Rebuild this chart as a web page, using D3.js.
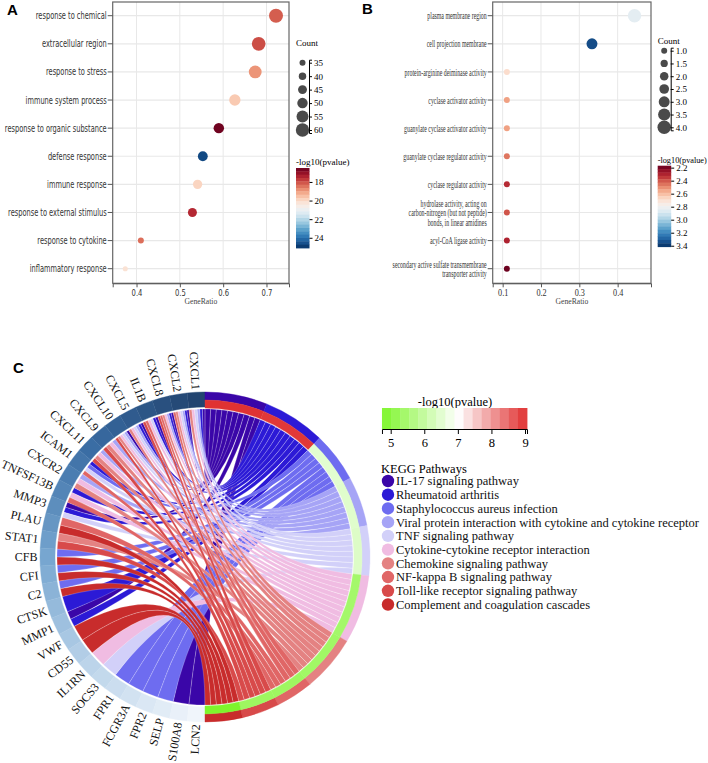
<!DOCTYPE html>
<html>
<head>
<meta charset="utf-8">
<script src="https://cdn.jsdelivr.net/npm/d3@7"></script>
<style>
  body { margin: 0; background: #fff; }
  svg { display: block; }
</style>
</head>
<body>
<div id="chart"></div>
<script>
// ---------- Panel A: GO enrichment (top 10) ----------
const termsA = ["response to chemical", "extracellular region", "response to stress", "immune system process",
  "response to organic substance", "defense response", "immune response", "response to external stimulus",
  "response to cytokine", "inflammatory response"];
const ratioA = [0.722, 0.682, 0.674, 0.627, 0.590, 0.553, 0.541, 0.529, 0.410, 0.374];
const countA = [62, 61, 58, 53, 50, 48, 46, 45, 35, 32];
const logpA = [18.2, 18.0, 18.9, 19.7, 16.6, 24.7, 19.9, 17.5, 18.4, 20.2];
const countTicksA = [35, 40, 45, 50, 55, 60];
const pvalTicksA = [18, 20, 22, 24];
const xTicksA = [0.4, 0.5, 0.6, 0.7];

// ---------- Panel B: GO enrichment (second set) ----------
const termsB = ["plasma membrane region", "cell projection membrane", "protein-arginine deiminase activity",
  "cyclase activator activity", "guanylate cyclase activator activity", "guanylate cyclase regulator activity",
  "cyclase regulator activity", "hydrolase activity, acting on\ncarbon-nitrogen (but not peptide)\nbonds, in linear amidines",
  "acyl-CoA ligase activity", "secondary active sulfate transmembrane\ntransporter activity"];
const ratioB = [0.444, 0.333, 0.111, 0.111, 0.111, 0.111, 0.111, 0.111, 0.111, 0.111];
const countB = [4, 3, 1, 1, 1, 1, 1, 1, 1, 1];
const logpB = [2.85, 3.35, 2.69, 2.54, 2.54, 2.46, 2.32, 2.40, 2.30, 2.18];
const countTicksB = [1.0, 1.5, 2.0, 2.5, 3.0, 3.5, 4.0];
const pvalTicksB = [2.2, 2.4, 2.6, 2.8, 3.0, 3.2, 3.4];
const xTicksB = [0.1, 0.2, 0.3, 0.4];

// ---------- Panel C: KEGG chord ----------
const genes = ["CXCL1", "CXCL2", "CXCL8", "IL1B", "CXCL5", "CXCL10", "CXCL9", "CXCL11", "ICAM1", "CXCR2",
  "TNFSF13B", "MMP3", "PLAU", "STAT1", "CFB", "CFI", "C2", "CTSK", "MMP1", "VWF", "CD55", "IL1RN",
  "SOCS3", "FPR1", "FCGR3A", "FPR2", "SELP", "S100A8", "LCN2"];
const pathways = ["IL-17 signaling pathway", "Rheumatoid arthritis", "Staphylococcus aureus infection",
  "Viral protein interaction with cytokine and cytokine receptor", "TNF signaling pathway",
  "Cytokine-cytokine receptor interaction", "Chemokine signaling pathway", "NF-kappa B signaling pathway",
  "Toll-like receptor signaling pathway", "Complement and coagulation cascades"];
const pathwayColors = ["#3a06a8", "#2c1ad6", "#6e6cf0", "#a6a4f6", "#d2d0f9", "#f0bce2",
  "#e48282", "#e06666", "#d84a4a", "#c82c2c"];
const pathwayLogP = [9.06, 9.0, 6.5, 6.45, 6.4, 5.4, 5.35, 5.3, 5.3, 4.74];
const pathwayGenes = [
  ["CXCL1", "CXCL2", "CXCL8", "IL1B", "CXCL5", "CXCL10", "MMP3", "MMP1", "S100A8", "LCN2"],
  ["CXCL1", "CXCL2", "CXCL8", "IL1B", "CXCL5", "ICAM1", "TNFSF13B", "MMP3", "CTSK", "MMP1"],
  ["ICAM1", "CFB", "CFI", "C2", "FPR1", "FCGR3A", "FPR2", "SELP"],
  ["CXCL1", "CXCL2", "CXCL8", "CXCL5", "CXCL10", "CXCL9", "CXCL11", "CXCR2"],
  ["CXCL1", "CXCL2", "IL1B", "CXCL5", "CXCL10", "ICAM1", "MMP3", "SOCS3"],
  ["CXCL1", "CXCL2", "CXCL8", "IL1B", "CXCL5", "CXCL10", "CXCL9", "CXCL11", "CXCR2", "TNFSF13B", "IL1RN"],
  ["CXCL1", "CXCL2", "CXCL8", "CXCL5", "CXCL10", "CXCL9", "CXCL11", "CXCR2", "STAT1"],
  ["CXCL2", "CXCL8", "IL1B", "ICAM1", "TNFSF13B", "PLAU"],
  ["CXCL8", "IL1B", "CXCL10", "CXCL9", "CXCL11", "STAT1"],
  ["PLAU", "CFB", "CFI", "C2", "VWF", "CD55"]
];
const pvalTicksC = [5, 6, 7, 8, 9];

const serif = "'Liberation Serif', 'Times New Roman', serif";
const sans = "'DejaVu Sans', sans-serif";

const svg = d3.select("#chart").append("svg")
  .attr("width", 708)
  .attr("height", 763);

// panel letters
[["A", 7, 15], ["B", 362, 14], ["C", 13, 373]].forEach(([t, x, y]) => {
  svg.append("text").attr("x", x).attr("y", y)
    .style("font-family", "'Liberation Sans', Arial, sans-serif")
    .style("font-weight", "bold").style("font-size", "15px").text(t);
});

// ---------- dot plot helper ----------
function dotPlot(o) {
  const g = svg.append("g");
  const x = d3.scaleLinear().domain(o.xDomain).range([o.left, o.right]);
  const y = d3.scalePoint().domain(o.terms).range([15.7, 268.7]);
  const r = d3.scaleLinear().domain(o.sizeDomain).range([3, 6.7]);
  const color = d3.scaleSequential(d3.interpolateRdBu).domain(o.colorDomain);

  // grid
  g.selectAll(".vg").data(o.xTicks).join("line")
    .attr("x1", d => x(d)).attr("x2", d => x(d))
    .attr("y1", o.top).attr("y2", o.bottom)
    .attr("stroke", "#e8e8e8").attr("stroke-width", 1);
  g.selectAll(".hg").data(o.terms).join("line")
    .attr("x1", o.left).attr("x2", o.right)
    .attr("y1", d => y(d)).attr("y2", d => y(d))
    .attr("stroke", "#e8e8e8").attr("stroke-width", 1.2);

  g.append("rect")
    .attr("x", o.left).attr("y", o.top)
    .attr("width", o.right - o.left).attr("height", o.bottom - o.top)
    .attr("fill", "none").attr("stroke", "#666").attr("stroke-width", 1.2);

  // y ticks + labels
  g.selectAll(".yt").data(o.terms).join("line")
    .attr("x1", o.left - 5).attr("x2", o.left)
    .attr("y1", d => y(d)).attr("y2", d => y(d))
    .attr("stroke", "#555");
  const lab = g.selectAll(".yl").data(o.terms).join("text")
    .attr("transform", d => `translate(${o.left - 6},${y(d)}) scale(${o.labelScale},1)`)
    .attr("text-anchor", "end")
    .style("font-family", o.font).style("font-size", o.labelSize + "px")
    .attr("fill", "#333");
  lab.each(function(d) {
    const lines = d.split("\n");
    const lh = 9.6;
    d3.select(this).selectAll("tspan").data(lines).join("tspan")
      .attr("x", 0)
      .attr("y", (l, i) => (i - (lines.length - 1) / 2) * lh)
      .attr("dy", "0.35em")
      .text(l => l);
  });

  // x axis
  const xa = g.append("g").attr("transform", `translate(0,${o.bottom})`)
    .call(d3.axisBottom(x).tickValues(o.xTicks).tickSize(4).tickSizeOuter(4).tickFormat(d3.format(".1f")));
  xa.select(".domain").attr("stroke", "#555");
  xa.selectAll(".tick line").attr("stroke", "#555");
  xa.selectAll(".tick text")
    .attr("y", 0).attr("dy", 0)
    .attr("transform", `translate(0,13) scale(${o.tickScale},1)`)
    .style("font-family", o.font).style("font-size", o.tickSize + "px").attr("fill", "#333");

  g.append("text")
    .attr("transform", `translate(${(o.left + o.right) / 2},304) scale(0.9,1)`)
    .attr("text-anchor", "middle")
    .style("font-family", serif).style("font-size", "8.5px").attr("fill", "#444")
    .text("GeneRatio");

  // dots
  g.selectAll(".dot").data(o.terms).join("circle")
    .attr("cx", (d, i) => x(o.ratio[i]))
    .attr("cy", d => y(d))
    .attr("r", (d, i) => r(o.count[i]))
    .attr("fill", (d, i) => color(o.logp[i]));

  // size legend
  const lg = svg.append("g");
  lg.append("text").attr("x", o.legX).attr("y", o.countTitleY)
    .style("font-family", serif).style("font-size", "9px").text("Count");
  const sy = d3.scaleLinear().domain([o.countTicks[0], o.countTicks[o.countTicks.length - 1]]).range(o.countRange);
  lg.selectAll(".lc").data(o.countTicks).join("circle")
    .attr("cx", o.legX + 6.5).attr("cy", d => sy(d)).attr("r", d => r(d)).attr("fill", "#4a4a4a");
  const sa = lg.append("g").attr("transform", `translate(${o.legX + 13},0)`)
    .call(d3.axisRight(sy.copy().domain([sy.invert(o.countRange[0] - 3), sy.invert(o.countRange[1] + 3)])
      .range([o.countRange[0] - 3, o.countRange[1] + 3]))
      .tickValues(o.countTicks).tickSize(3).tickSizeOuter(3).tickFormat(o.countFormat));
  sa.selectAll("text").style("font-family", serif).style("font-size", "9px").attr("x", 5);

  // colour legend
  lg.append("text").attr("transform", `translate(${o.legX},${o.pTitleY}) scale(${o.pTitleScale},1)`)
    .style("font-family", serif).style("font-size", "9px").text("-log10(pvalue)");
  const cy = d3.scaleLinear().domain(o.colorDomain).range(o.barRange);
  const steps = d3.range(24).map(i => o.colorDomain[0] + (i + 0.5) * (o.colorDomain[1] - o.colorDomain[0]) / 24);
  const bh = (o.barRange[1] - o.barRange[0]) / 24;
  lg.selectAll(".cb").data(steps).join("rect")
    .attr("x", o.legX).attr("width", 13.5)
    .attr("y", d => cy(d) - bh / 2).attr("height", bh + 0.4)
    .attr("fill", d => color(d));
  const ca = lg.append("g").attr("transform", `translate(${o.legX + 13.5},0)`)
    .call(d3.axisRight(cy).tickValues(o.pvalTicks).tickSize(3).tickSizeOuter(0).tickFormat(o.pFormat));
  ca.select(".domain").remove();
  ca.selectAll("text").style("font-family", serif).style("font-size", "9px").attr("x", 5);
}

dotPlot({
  terms: termsA, ratio: ratioA, count: countA, logp: logpA,
  left: 112.7, right: 289, top: 2, bottom: 283.3,
  xDomain: [0.345, 0.752], xTicks: xTicksA,
  sizeDomain: [35, 60], colorDomain: [16.5, 25.1],
  font: sans, labelSize: 10, labelScale: 0.665, tickSize: 9.5, tickScale: 0.72,
  legX: 296, countTitleY: 46, countRange: [62.7, 130], countTicks: countTicksA, countFormat: d3.format("d"),
  pTitleY: 165, pTitleScale: 1, barRange: [168, 248], pvalTicks: pvalTicksA, pFormat: d3.format("d")
});

dotPlot({
  terms: termsB, ratio: ratioB, count: countB, logp: logpB,
  left: 492.7, right: 651, top: 2, bottom: 283.3,
  xDomain: [0.074, 0.487], xTicks: xTicksB,
  sizeDomain: [1, 4], colorDomain: [2.17, 3.415],
  font: serif, labelSize: 10.5, labelScale: 0.56, tickSize: 10, tickScale: 0.82,
  legX: 657.7, countTitleY: 44, countRange: [50.7, 127.3], countTicks: countTicksB, countFormat: d3.format(".1f"),
  pTitleY: 162.5, pTitleScale: 0.92, barRange: [165.7, 246.7], pvalTicks: pvalTicksB, pFormat: d3.format(".1f")
});

// ---------- Panel C ----------
const cx = 205, cyC = 557;
const gc = svg.append("g").attr("transform", `translate(${cx},${cyC})`);

const pColor = d3.scaleLinear().domain([4.74, 7, 9.06]).range(["#7ef52c", "#ffffff", "#e03232"]).clamp(true);
const geneColor = d3.scaleLinear()
  .domain([0, 0.25, 0.5, 0.75, 1])
  .range(["#224470", "#3a6da4", "#77a6d0", "#bcd4ea", "#f0f5fb"]);

const gw = Math.PI / genes.length;
const totalLinks = d3.sum(pathwayGenes, d => d.length);
const lw = Math.PI / totalLinks;
let acc = 0;
const pathArcs = pathwayGenes.map((gs, j) => {
  const s = acc; acc += gs.length * lw;
  return { j, startAngle: s, endAngle: acc };
});
const geneMember = genes.map(gn => pathways.map((p, j) => j).filter(j => pathwayGenes[j].includes(gn)));

const links = [];
pathwayGenes.forEach((gs, j) => {
  const sorted = gs.slice().sort((a, b) => genes.indexOf(a) - genes.indexOf(b));
  sorted.forEach((gn, k) => {
    const i = genes.indexOf(gn);
    const memb = geneMember[i];
    const n = memb.length, kk = memb.indexOf(j);
    const ps = pathArcs[j].startAngle + k * lw;
    links.push({
      j,
      source: { startAngle: ps, endAngle: ps + lw },
      target: { startAngle: -(i * gw + (kk + 1) * gw / n), endAngle: -(i * gw + kk * gw / n) }
    });
  });
});

const ribbon = d3.ribbon().radius(148);
gc.selectAll(".chord").data(links).join("path")
  .attr("d", ribbon)
  .attr("fill", d => pathwayColors[d.j])
  .attr("stroke", "#ffffff").attr("stroke-width", 0.3).attr("stroke-opacity", 0.7);

// gene ring
const geneArc = d3.arc().innerRadius(150).outerRadius(165);
gc.selectAll(".garc").data(genes).join("path")
  .attr("d", (d, i) => geneArc({ startAngle: -(i + 1) * gw, endAngle: -i * gw }))
  .attr("fill", (d, i) => geneColor(i / (genes.length - 1)))
  .attr("stroke", (d, i) => geneColor(i / (genes.length - 1))).attr("stroke-width", 0.4);

// pathway rings
const outerArc = d3.arc().innerRadius(157).outerRadius(165);
const innerArc = d3.arc().innerRadius(149).outerRadius(157);
gc.selectAll(".parc").data(pathArcs).join("path")
  .attr("d", outerArc).attr("fill", d => pathwayColors[d.j])
  .attr("stroke", d => pathwayColors[d.j]).attr("stroke-width", 0.4);
gc.selectAll(".pval").data(pathArcs).join("path")
  .attr("d", innerArc).attr("fill", d => pColor(pathwayLogP[d.j]))
  .attr("stroke", d => pColor(pathwayLogP[d.j])).attr("stroke-width", 0.4);

// gene labels
gc.selectAll(".glab").data(genes).join("text")
  .attr("transform", (d, i) => {
    const a = -(i + 0.5) * gw;
    const rr = 167.5;
    return `translate(${rr * Math.sin(a)},${-rr * Math.cos(a)}) rotate(${90 + a * 180 / Math.PI})`;
  })
  .attr("text-anchor", "end")
  .attr("dy", "0.35em")
  .style("font-family", serif).style("font-size", "12px").attr("fill", "#111")
  .text(d => d);

// p-value colour legend
const lx = d3.scaleLinear().domain([5, 9]).range([390.7, 525]);
svg.append("text").attr("x", 455).attr("y", 406).attr("text-anchor", "middle")
  .style("font-family", serif).style("font-size", "12.5px").text("-log10(pvalue)");
const nSteps = 16;
const stepVals = d3.range(nSteps).map(i => 4.74 + (i + 0.5) * (9.06 - 4.74) / nSteps);
const sw = (lx(9.06) - lx(4.74)) / nSteps;
svg.selectAll(".lstep").data(stepVals).join("rect")
  .attr("x", d => lx(d) - sw / 2).attr("width", sw + 0.4)
  .attr("y", 408).attr("height", 21)
  .attr("fill", d => pColor(d));
const lax = svg.append("g").attr("transform", "translate(0,429)")
  .call(d3.axisBottom(lx.copy().domain([4.74, 9.06]).range([lx(4.74), lx(9.06)]))
    .tickValues(pvalTicksC).tickSize(5).tickSizeOuter(5).tickFormat(d3.format("d")));
lax.selectAll("text").style("font-family", serif).style("font-size", "12.5px").attr("y", 9);

// KEGG legend
svg.append("text").attr("x", 381).attr("y", 473)
  .style("font-family", serif).style("font-size", "12.5px").text("KEGG Pathways");
const ly = d3.scalePoint().domain(pathways).range([481, 604.5]);
svg.selectAll(".kdot").data(pathways).join("circle")
  .attr("cx", 388).attr("cy", d => ly(d)).attr("r", 6.2)
  .attr("fill", (d, i) => pathwayColors[i]);
svg.selectAll(".ktxt").data(pathways).join("text")
  .attr("x", 396).attr("y", d => ly(d)).attr("dy", "0.35em")
  .style("font-family", serif).style("font-size", "12.5px").attr("fill", "#111")
  .text(d => d);
</script>
</body>
</html>
